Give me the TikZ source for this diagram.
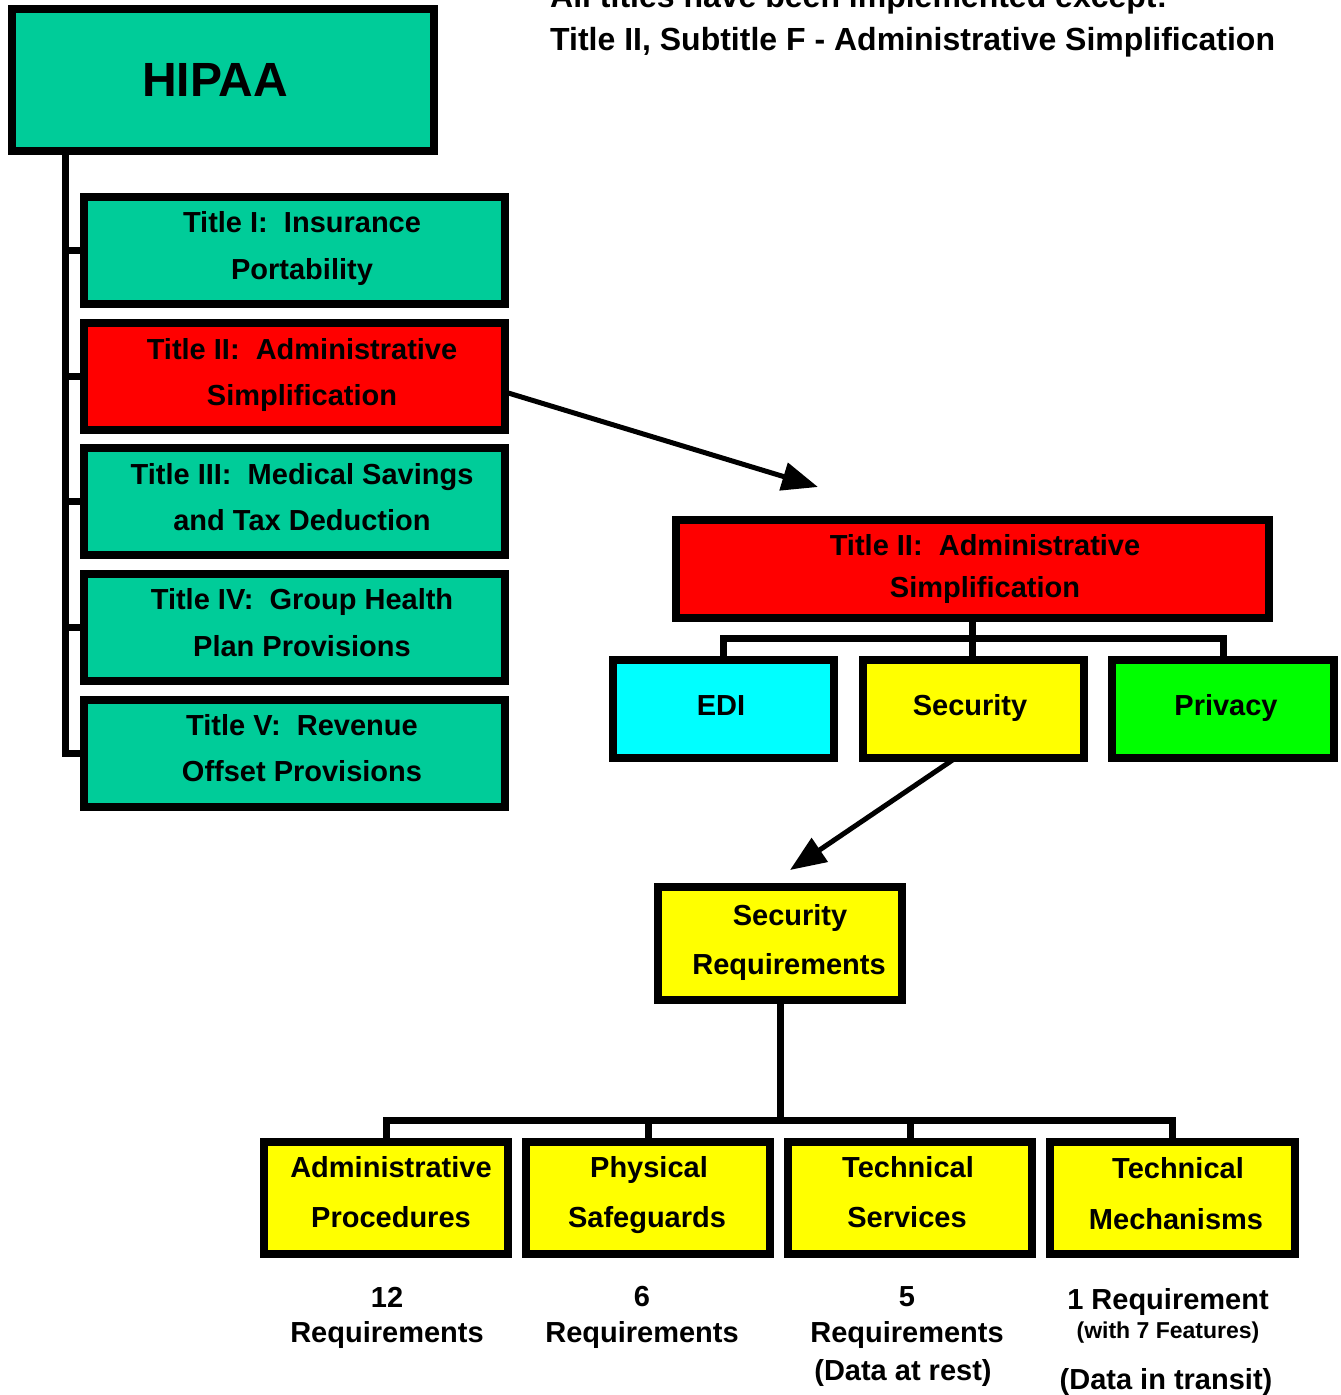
\documentclass[tikz,border=0pt]{standalone}
\usepackage{fontspec}
\setmainfont{Liberation Sans}
\usetikzlibrary{arrows.meta,calc}
\definecolor{hgreen}{HTML}{00CC99}
\definecolor{hred}{HTML}{FF0000}
\definecolor{hcyan}{HTML}{00FFFF}
\definecolor{hyellow}{HTML}{FFFF00}
\definecolor{hlime}{HTML}{00FF00}
\begin{document}
\begin{tikzpicture}[x=1pt,y=-1pt,
  box/.style={draw=black,line width=8pt,inner sep=0pt,outer sep=0pt},
  lbl/.style={font=\bfseries\fontsize{29}{34}\selectfont,anchor=base,inner sep=0pt},
  small/.style={lbl,font=\bfseries\fontsize{23}{28}\selectfont},
  conn/.style={line width=7pt},
  arr/.style={line width=5pt,-{Triangle[length=36pt,width=28pt]}}]
\clip (0,0) rectangle (1341,1395);
\fill[white] (0,0) rectangle (1341,1395);

% top text (first line is cut off at the top edge, as in the reference)
\node[lbl,anchor=base west,font=\bfseries\fontsize{32}{38}\selectfont] (topA) at (550,7) {All titles have been implemented except:};
\node[lbl,anchor=base west,font=\bfseries\fontsize{32}{38}\selectfont] (topB) at (550,50) {Title II, Subtitle F - Administrative Simplification};

% left tree
\coordinate (trunkx) at (65,0);
\node[box,fill=hgreen,minimum width=422pt,minimum height=142pt] (hipaa) at (223,80) {};
\node[box,fill=hgreen,minimum width=421pt,minimum height=107pt] (t1) at (294.5,250.5) {};
\node[box,fill=hred,minimum width=421pt,minimum height=107pt] (t2) at (294.5,376) {};
\node[box,fill=hgreen,minimum width=421pt,minimum height=107pt] (t3) at (294.5,501) {};
\node[box,fill=hgreen,minimum width=421pt,minimum height=107pt] (t4) at (294.5,627) {};
\node[box,fill=hgreen,minimum width=421pt,minimum height=107pt] (t5) at (294.5,753) {};
\draw[conn] (hipaa.south -| trunkx) -- (t5.west -| trunkx) -- (t5.west);
\foreach \n in {t1,t2,t3,t4} \draw[conn] (\n.west -| trunkx) -- (\n.west);

\node[lbl,font=\bfseries\fontsize{48}{56}\selectfont] (hipaaT) at (215,96) {HIPAA};
\node[lbl] (t1a) at (302,232) {Title I:\ \ Insurance};
\node[lbl] (t1b) at (302,279) {Portability};
\node[lbl] (t2a) at (302,359) {Title II:\ \ Administrative};
\node[lbl] (t2b) at (302,405) {Simplification};
\node[lbl] (t3a) at (302,484) {Title III:\ \ Medical Savings};
\node[lbl] (t3b) at (302,530) {and Tax Deduction};
\node[lbl] (t4a) at (302,609) {Title IV:\ \ Group Health};
\node[lbl] (t4b) at (302,656) {Plan Provisions};
\node[lbl] (t5a) at (302,735) {Title V:\ \ Revenue};
\node[lbl] (t5b) at (302,781) {Offset Provisions};

% right structure
\coordinate (busA) at (0,638);
\coordinate (busB) at (0,1120);
\coordinate (tipA) at (818,487);
\coordinate (tipB) at (790,870);

\node[box,fill=hred,minimum width=593pt,minimum height=98pt] (r2) at (972.5,569) {};
\node[box,fill=hcyan,minimum width=221pt,minimum height=98pt] (edi) at (723.5,709) {};
\node[box,fill=hyellow,minimum width=221pt,minimum height=98pt] (sec) at (973.5,709) {};
\node[box,fill=hlime,minimum width=222pt,minimum height=98pt] (priv) at (1223,709) {};
\node[box,fill=hyellow,minimum width=244pt,minimum height=113pt] (sreq) at (780,943.5) {};
\node[box,fill=hyellow,minimum width=244pt,minimum height=112pt] (b1) at (386,1198) {};
\node[box,fill=hyellow,minimum width=244pt,minimum height=112pt] (b2) at (648,1198) {};
\node[box,fill=hyellow,minimum width=244pt,minimum height=112pt] (b3) at (910,1198) {};
\node[box,fill=hyellow,minimum width=245pt,minimum height=112pt] (b4) at (1172.5,1198) {};

\draw[conn] (r2.south) -- (r2.south |- busA);
\draw[conn] (edi.north) -- (edi.north |- busA) -- (priv.north |- busA) -- (priv.north);
\draw[conn] (r2.south |- busA) -- (r2.south |- sec.north);
\draw[conn] (sreq.south) -- (sreq.south |- busB);
\draw[conn] (b1.north) -- (b1.north |- busB) -- (b4.north |- busB) -- (b4.north);
\draw[conn] (b2.north |- busB) -- (b2.north);
\draw[conn] (b3.north |- busB) -- (b3.north);

\draw[arr] ([yshift=-16pt]t2.east) -- (tipA);
\draw[arr] ([xshift=-18pt]sec.south) -- (tipB);

\node[lbl] (r2a) at (985,555) {Title II:\ \ Administrative};
\node[lbl] (r2b) at (985,597) {Simplification};
\node[lbl] (ediT) at (721,715) {EDI};
\node[lbl] (secT) at (970,715) {Security};
\node[lbl] (privT) at (1226,715) {Privacy};
\node[lbl] (sreqa) at (790,925) {Security};
\node[lbl] (sreqb) at (789,974) {Requirements};
\node[lbl] (b1a) at (391,1177) {Administrative};
\node[lbl] (b1b) at (391,1227) {Procedures};
\node[lbl] (b2a) at (649,1177) {Physical};
\node[lbl] (b2b) at (647,1227) {Safeguards};
\node[lbl] (b3a) at (908,1177) {Technical};
\node[lbl] (b3b) at (907,1227) {Services};
\node[lbl] (b4a) at (1178,1178) {Technical};
\node[lbl] (b4b) at (1176,1229) {Mechanisms};

% counts
\node[lbl] (c1a) at (387,1307) {12};
\node[lbl] (c1b) at (387,1342) {Requirements};
\node[lbl] (c2a) at (642,1306) {6};
\node[lbl] (c2b) at (642,1342) {Requirements};
\node[lbl] (c3a) at (907,1306) {5};
\node[lbl] (c3b) at (907,1342) {Requirements};
\node[lbl] (c3c) at (903,1380) {(Data at rest)};
\node[lbl] (c4a) at (1168,1309) {1 Requirement};
\node[small] (c4b) at (1168,1338) {(with 7 Features)};
\node[lbl] (c4c) at (1166,1389) {(Data in transit)};
\end{tikzpicture}
\end{document}
